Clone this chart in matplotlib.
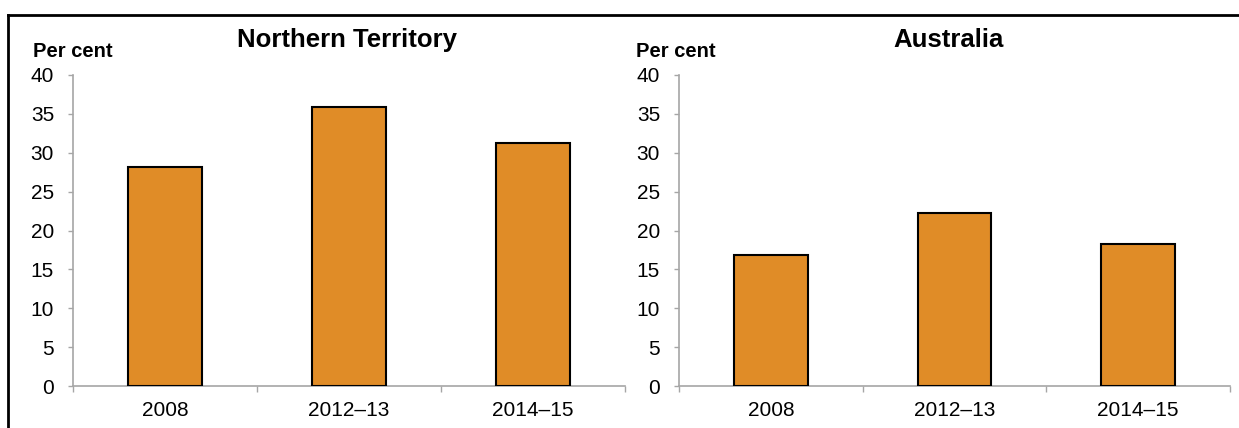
import matplotlib
matplotlib.use("Agg")
import matplotlib.pyplot as plt
from matplotlib.lines import Line2D

plt.rcParams['font.family'] = ['Liberation Sans', 'DejaVu Sans']

categories = ['2008', '2012\u201313', '2014\u201315']
nt_values = [28.2, 35.9, 31.3]
aus_values = [16.8, 22.2, 18.2]
titles = ['Northern Territory', 'Australia']
yticks = [0, 5, 10, 15, 20, 25, 30, 35, 40]

bar_color = '#E08C27'
axis_grey = '#A6A6A6'

W, H = 1239, 428
fig = plt.figure(figsize=(W / 100, H / 100), dpi=100)

# axes rects in figure fraction (left, bottom, width, height)
rects = [(73 / W, 1 - 386 / H, 552 / W, 311 / H),
         (679 / W, 1 - 386 / H, 551 / W, 311 / H)]
title_x = [347 / W, 949 / W]
percent_x = [33 / W, 636 / W]

for i, (rect, vals, title) in enumerate(zip(rects, [nt_values, aus_values], titles)):
    ax = fig.add_axes(rect)
    x = range(len(categories))
    ax.bar(x, vals, width=0.4, color=bar_color, edgecolor='black', linewidth=1.5, zorder=3)
    ax.set_xlim(-0.5, len(categories) - 0.5)
    ax.set_ylim(0, 40)
    ax.set_yticks(yticks)
    ax.tick_params(axis='y', labelsize=15, length=3.6, width=1, color=axis_grey, pad=10)
    ax.set_xticks([k - 0.5 for k in range(len(categories) + 1)])
    ax.set_xticklabels([])
    ax.set_xticks(list(x), minor=True)
    ax.set_xticklabels(categories, minor=True)
    ax.tick_params(axis='x', which='major', length=4.5, width=1, color=axis_grey)
    ax.tick_params(axis='x', which='minor', length=0, labelsize=15, pad=11)
    for s in ['top', 'right']:
        ax.spines[s].set_visible(False)
    for s in ['left', 'bottom']:
        ax.spines[s].set_color(axis_grey)
        ax.spines[s].set_linewidth(1.2)
    fig.text(title_x[i], 1 - 40 / H, title, fontsize=18.5, fontweight='bold',
             ha='center', va='center')
    fig.text(percent_x[i], 1 - 57 / H, 'Per cent', fontsize=14.5,
             fontweight='bold', ha='left', va='baseline')

# outer frame (top and left edges)
fig.add_artist(Line2D([8 / W, 1.0], [1 - 15 / H, 1 - 15 / H],
                      transform=fig.transFigure, color='black', linewidth=2))
fig.add_artist(Line2D([8 / W, 8 / W], [0.0, 1 - 15 / H],
                      transform=fig.transFigure, color='black', linewidth=2))

fig.savefig('out.png', dpi=100)
